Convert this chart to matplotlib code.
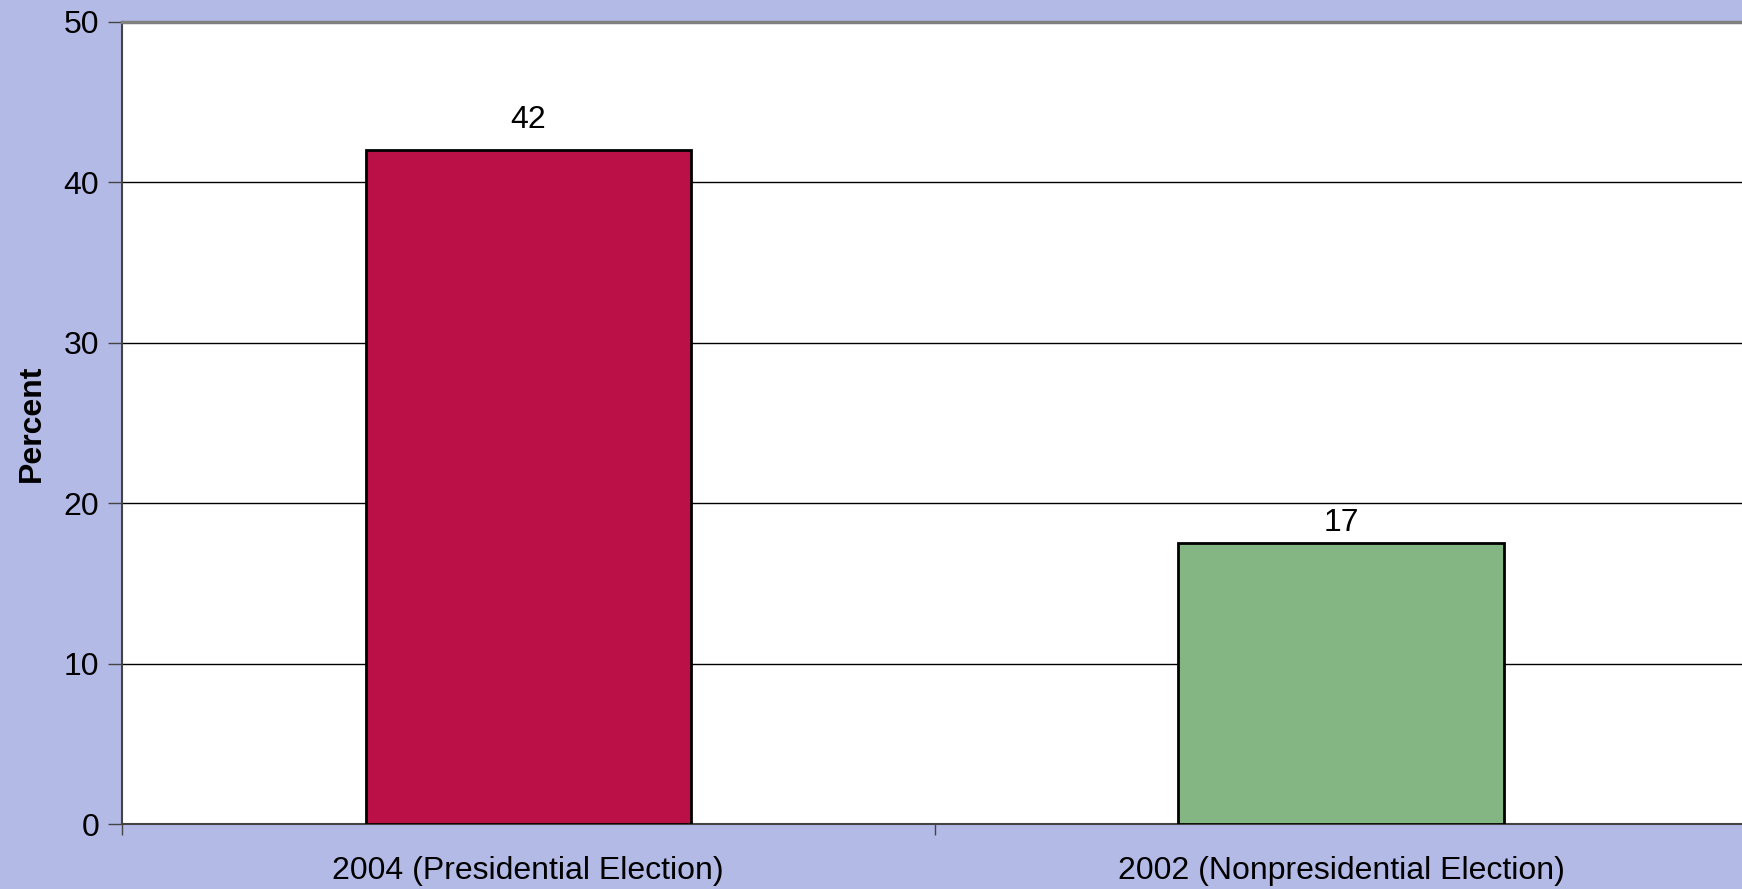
import matplotlib
matplotlib.use("Agg")
import matplotlib.pyplot as plt
from matplotlib.ticker import FixedLocator

plt.rcParams['font.family'] = ['Liberation Sans', 'DejaVu Sans']

# data
categories = ['2004 (Presidential Election)', '2002 (Nonpresidential Election)']
values = [42, 17.5]
labels = ['42', '17']
colors = ['#BA0F47', '#84B683']
y_ticks = [0, 10, 20, 30, 40, 50]

bg = '#B3BAE6'

fig = plt.figure(figsize=(17.42, 8.89), dpi=100)
fig.patch.set_facecolor(bg)
ax = fig.add_axes([0.070, 0.0731, 0.9331, 0.9022])
ax.set_facecolor('white')

x = list(range(len(categories)))
bars = ax.bar(x, values, width=0.4, color=colors, edgecolor='black', linewidth=2, zorder=3)

# value labels above bars
offsets = [21.5, 14.5]
for b, lab, off in zip(bars, labels, offsets):
    ax.annotate(lab, (b.get_x() + b.get_width() / 2, b.get_height()),
                xytext=(0, off), textcoords='offset points',
                ha='center', va='center', fontsize=23)

ax.set_xlim(-0.5, 1.5)
ax.set_ylim(0, 50)
ax.set_yticks(y_ticks)
ax.yaxis.grid(True, color='black', linewidth=1)
ax.set_axisbelow(True)

ax.set_xticks(x)
ax.set_xticklabels(categories, fontsize=23)
ax.xaxis.set_minor_locator(FixedLocator([-0.5, 0.5, 1.5]))
ax.tick_params(axis='x', which='major', length=0, pad=23)
ax.tick_params(axis='x', which='minor', length=8, width=1, color='#444444')
ax.tick_params(axis='y', length=10, width=1, color='#444444', labelsize=23, pad=6.5)

ax.set_ylabel('Percent', fontsize=23, fontweight='bold', labelpad=12)

for side in ['left', 'bottom']:
    ax.spines[side].set_color('#444444')
    ax.spines[side].set_linewidth(1.5)
ax.spines['top'].set_color('#808080')
ax.spines['top'].set_linewidth(2.5)
ax.spines['right'].set_visible(False)

fig.savefig('out.png', dpi=100, facecolor=bg)
